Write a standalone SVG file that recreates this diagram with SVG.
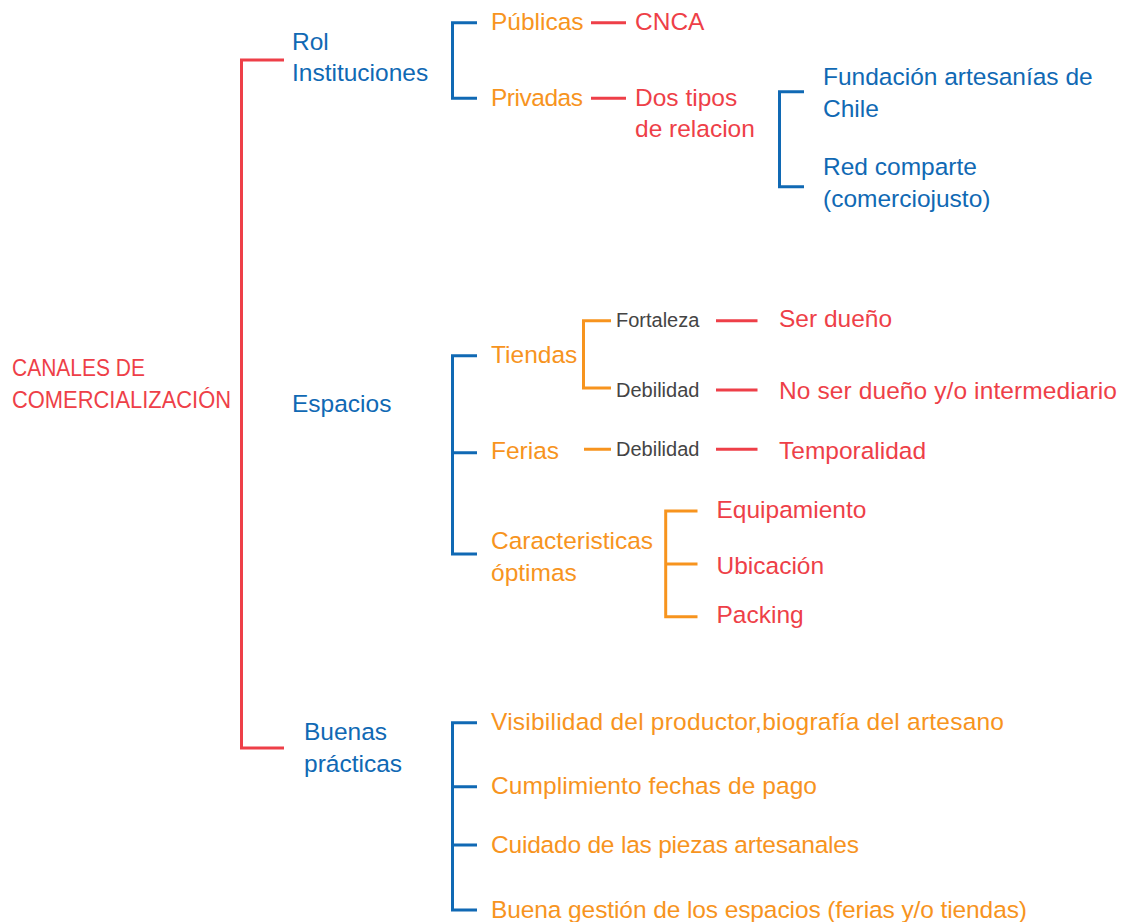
<svg xmlns="http://www.w3.org/2000/svg" width="1121" height="922" viewBox="0 0 1121 922">
<style>
text{font-family:"Liberation Sans",Arial,sans-serif;font-size:24.5px}
.b{fill:#1069b4}.o{fill:#f7941e}.r{fill:#ee3f48}.g{fill:#444;font-size:20px}
.lb,.lo,.lr{fill:none;stroke-width:3}
.lb{stroke:#1069b4}.lo{stroke:#f7941e}.lr{stroke:#ee3f48}
</style>
<rect width="1121" height="922" fill="#fff"/>
<g id="connectors">
<path class="lr" d="M284 60H241.5V748H284"/>
<path class="lb" d="M477 22.7H452.5V98.3H477"/>
<path class="lr" d="M591 22.7H626M591 98.3H626"/>
<path class="lb" d="M804 91.7H779.5V186.7H804"/>
<path class="lb" d="M477 355.7H452.5V554H477M452.5 452.7H477"/>
<path class="lo" d="M611 320.7H583.5V388H611M584 449.3H611"/>
<path class="lr" d="M716 320.7H757.5M716 390H757.5M716 449.3H757.5"/>
<path class="lo" d="M697.5 511H665.7V616.7H697.5M665.7 564H697.5"/>
<path class="lb" d="M477 722.7H452.5V910H477M452.5 786.7H477M452.5 845H477"/>
</g>
<g id="root"><text class="r" x="12" y="376" textLength="133" lengthAdjust="spacingAndGlyphs">CANALES DE</text><text class="r" x="12" y="408" textLength="219" lengthAdjust="spacingAndGlyphs">COMERCIALIZACIÓN</text></g>
<g id="rol"><text class="b" x="292" y="49.5">Rol</text><text class="b" x="292" y="81">Instituciones</text></g>
<g id="espacios"><text class="b" x="292" y="412">Espacios</text></g>
<g id="buenas"><text class="b" x="304" y="740">Buenas</text><text class="b" x="304" y="771.5">prácticas</text></g>
<g id="publicas"><text class="o" x="491" y="30">Públicas</text></g>
<g id="cnca"><text class="r" x="635" y="30">CNCA</text></g>
<g id="privadas"><text class="o" x="491" y="105.5" textLength="92">Privadas</text></g>
<g id="dostipos"><text class="r" x="635" y="105.5">Dos tipos</text><text class="r" x="635" y="137">de relacion</text></g>
<g id="fundacion"><text class="b" x="823" y="85">Fundación artesanías de</text><text class="b" x="823" y="116.7">Chile</text></g>
<g id="red"><text class="b" x="823" y="175">Red comparte</text><text class="b" x="823" y="206.5">(comerciojusto)</text></g>
<g id="tiendas"><text class="o" x="491" y="362.7">Tiendas</text></g>
<g id="fortaleza"><text class="g" x="616" y="326.7">Fortaleza</text></g>
<g id="debilidad1"><text class="g" x="616" y="396.7">Debilidad</text></g>
<g id="serdueno"><text class="r" x="779" y="327.3">Ser dueño</text></g>
<g id="noser"><text class="r" x="779" y="399.3" textLength="338">No ser dueño y/o intermediario</text></g>
<g id="ferias"><text class="o" x="491" y="459.3">Ferias</text></g>
<g id="debilidad2"><text class="g" x="616" y="456">Debilidad</text></g>
<g id="temporalidad"><text class="r" x="779" y="459.3">Temporalidad</text></g>
<g id="caracteristicas"><text class="o" x="491" y="549.3">Caracteristicas</text><text class="o" x="491" y="580.5">óptimas</text></g>
<g id="equipamiento"><text class="r" x="716.5" y="518.3">Equipamiento</text></g>
<g id="ubicacion"><text class="r" x="716.5" y="574">Ubicación</text></g>
<g id="packing"><text class="r" x="716.5" y="623.3">Packing</text></g>
<g id="bp1"><text class="o" x="491" y="730" textLength="513">Visibilidad del productor,biografía del artesano</text></g>
<g id="bp2"><text class="o" x="491" y="794" textLength="326">Cumplimiento fechas de pago</text></g>
<g id="bp3"><text class="o" x="491" y="853.3" textLength="368">Cuidado de las piezas artesanales</text></g>
<g id="bp4"><text class="o" x="491" y="917.5" textLength="536">Buena gestión de los espacios (ferias y/o tiendas)</text></g>
</svg>
